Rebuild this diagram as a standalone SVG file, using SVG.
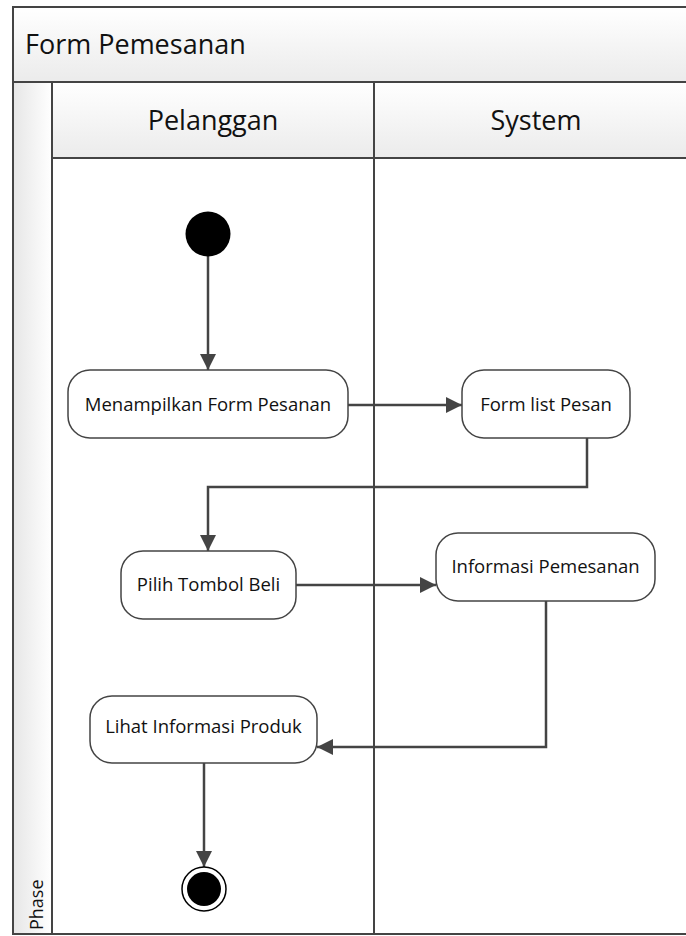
<svg xmlns="http://www.w3.org/2000/svg" width="686" height="936" viewBox="0 0 686 936">
  <defs>
    <linearGradient id="hdr" x1="0" y1="0" x2="0" y2="1">
      <stop offset="0" stop-color="#ffffff"/>
      <stop offset="1" stop-color="#ebebeb"/>
    </linearGradient>
    <linearGradient id="phase" x1="0" y1="0" x2="1" y2="0">
      <stop offset="0" stop-color="#e6e6e6"/>
      <stop offset="1" stop-color="#ffffff"/>
    </linearGradient>
    <marker id="arrow" markerUnits="userSpaceOnUse" markerWidth="18" markerHeight="18" refX="16" refY="8" orient="auto">
      <path d="M0,0 L16,8 L0,16 Z" fill="#444444"/>
    </marker>
    <style>
      .frame { fill: none; stroke: #444444; stroke-width: 2; }
      .sep { stroke: #444444; stroke-width: 2; fill: none; }
      .node { fill: #ffffff; stroke: #444444; stroke-width: 1.5; }
      .conn { fill: none; stroke: #444444; stroke-width: 2.5; marker-end: url(#arrow); }
      .lbl { font-family: "Open Sans", "Noto Sans", sans-serif; font-size: 18.5px; fill: #111111; text-anchor: middle; }
      .big { font-family: "Open Sans", "Noto Sans", sans-serif; font-size: 27px; fill: #111111; }
      .ph { font-family: "Open Sans", "Noto Sans", sans-serif; font-size: 18px; fill: #111111; }
    </style>
  </defs>

  <rect x="0" y="0" width="686" height="936" fill="#ffffff"/>

  <g id="pool">
    <rect x="13" y="7" width="690" height="75" fill="url(#hdr)"/>
    <rect x="13" y="82" width="39" height="852" fill="url(#phase)"/>
    <rect x="52" y="82" width="651" height="76" fill="url(#hdr)"/>
    <rect x="13" y="7" width="690" height="927" class="frame"/>
    <line x1="13" y1="82" x2="703" y2="82" class="sep"/>
    <line x1="52" y1="82" x2="52" y2="934" class="sep"/>
    <line x1="52" y1="158" x2="703" y2="158" class="sep"/>
    <line x1="374" y1="82" x2="374" y2="934" class="sep"/>
    <text x="25" y="54" class="big">Form Pemesanan</text>
    <text x="213" y="130" class="big" text-anchor="middle">Pelanggan</text>
    <text x="536" y="130" class="big" text-anchor="middle">System</text>
    <text x="43" y="930" class="ph" transform="rotate(-90 43 930)">Phase</text>
  </g>

  <g id="connectors">
    <path d="M208,256 L208,370" class="conn"/>
    <path d="M348,405 L462,405" class="conn"/>
    <path d="M587,438 L587,487 L208,487 L208,551" class="conn"/>
    <path d="M296,585 L436,585" class="conn"/>
    <path d="M546,601 L546,747 L317,747" class="conn"/>
    <path d="M204,763 L204,867" class="conn"/>
  </g>

  <g id="start">
    <circle cx="208" cy="234" r="22.5" fill="#000000"/>
  </g>

  <g id="menampilkan">
    <rect x="68" y="370" width="280" height="68" rx="22" class="node"/>
    <text x="208" y="411" class="lbl">Menampilkan Form Pesanan</text>
  </g>

  <g id="formlist">
    <rect x="462" y="370" width="168" height="68" rx="22" class="node"/>
    <text x="546" y="411" class="lbl">Form list Pesan</text>
  </g>

  <g id="pilih">
    <rect x="121" y="551" width="175" height="68" rx="22" class="node"/>
    <text x="208.5" y="591" class="lbl">Pilih Tombol Beli</text>
  </g>

  <g id="informasi">
    <rect x="436" y="533" width="219" height="68" rx="22" class="node"/>
    <text x="545.5" y="573" class="lbl">Informasi Pemesanan</text>
  </g>

  <g id="lihat">
    <rect x="90" y="696" width="227" height="67" rx="22" class="node"/>
    <text x="203.5" y="733" class="lbl">Lihat Informasi Produk</text>
  </g>

  <g id="end">
    <circle cx="204" cy="889" r="22" fill="#ffffff" stroke="#000000" stroke-width="1.5"/>
    <circle cx="204" cy="889" r="17" fill="#000000"/>
  </g>
</svg>
